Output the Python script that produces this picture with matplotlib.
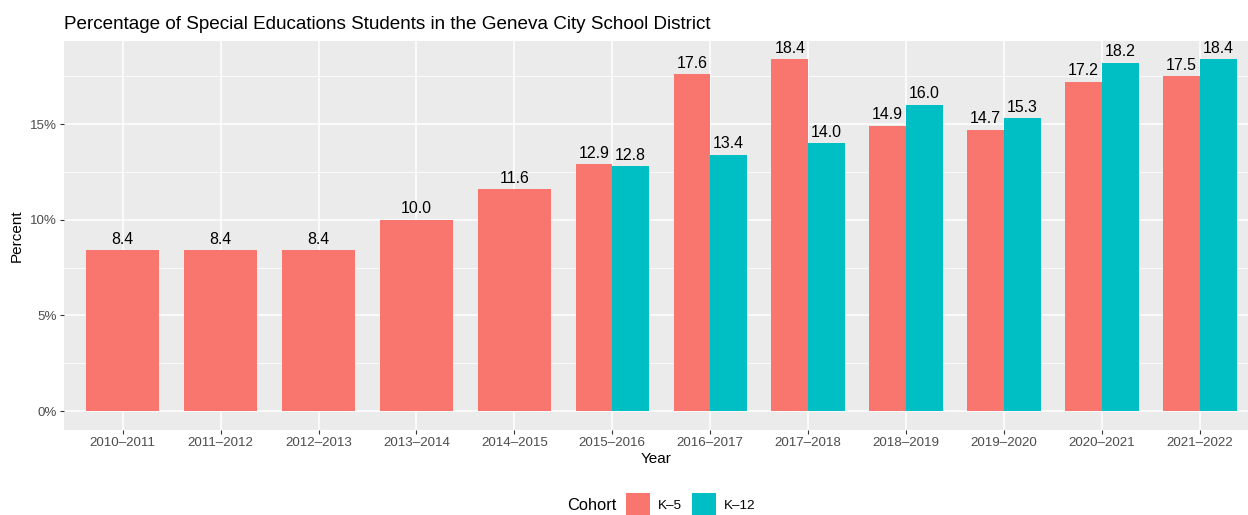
import numpy as np
import matplotlib
matplotlib.use("Agg")
import matplotlib.pyplot as plt
from matplotlib.patches import Patch

plt.rcParams['font.family'] = ['Liberation Sans', 'DejaVu Sans']

# Daten
jahre = ["2010–2011", "2011–2012", "2012–2013", "2013–2014", "2014–2015", "2015–2016",
         "2016–2017", "2017–2018", "2018–2019", "2019–2020", "2020–2021", "2021–2022"]
k5 = [8.4, 8.4, 8.4, 10.0, 11.6, 12.9, 17.6, 18.4, 14.9, 14.7, 17.2, 17.5]
k12 = [np.nan, np.nan, np.nan, np.nan, np.nan, 12.8, 13.4, 14.0, 16.0, 15.3, 18.2, 18.4]
gruppen = ["K–5", "K–12"]
farben = ["#F8766D", "#00BFC4"]

fig = plt.figure(figsize=(12.48, 5.15), dpi=100)
ax = fig.add_axes([64/1248, 85/515, 1184/1248, 389/515])
ax.set_facecolor("#EBEBEB")

breite = 0.75
x = np.arange(len(jahre))
for i in range(len(jahre)):
    if np.isnan(k12[i]):
        werte = [(k5[i], farben[0], i, breite)]
    else:
        werte = [(k5[i], farben[0], i - breite/4, breite/2),
                 (k12[i], farben[1], i + breite/4, breite/2)]
    for w, f, pos, b in werte:
        ax.bar(pos, w, width=b, color=f, zorder=3)
        ax.annotate("%.1f" % w, (pos, w), xytext=(0, 2.5), textcoords="offset points",
                    ha="center", va="bottom", fontsize=11.4, color="black", zorder=4)

ax.set_xlim(-0.6, (1248 - 123) / 97.85 - 0.005)
ax.set_ylim(-0.99, 19.34)
ax.set_xticks(x)
ax.set_xticklabels(jahre)
ax.set_yticks([0, 5, 10, 15])
ax.set_yticklabels(["0%", "5%", "10%", "15%"])
ax.set_yticks([2.5, 7.5, 12.5, 17.5], minor=True)

ax.grid(which="major", color="white", linewidth=1.1, zorder=0)
ax.grid(which="minor", axis="y", color="white", linewidth=0.55, zorder=0)
ax.set_axisbelow(True)
for s in ax.spines.values():
    s.set_visible(False)
ax.tick_params(axis="both", which="major", length=2.75, width=0.8, color="#333333",
               labelsize=9.6, labelcolor="#4D4D4D", pad=2.2)
ax.tick_params(axis="y", which="minor", length=0)

ax.set_xlabel("Year", fontsize=11, labelpad=2.5)
ax.set_ylabel("Percent", fontsize=11)
ax.yaxis.set_label_coords((24 - 64) / 1184, 0.5)
ax.set_title("Percentage of Special Educations Students in the Geneva City School District",
             loc="left", fontsize=13.6, pad=8.5)

# Legende unten
fig.text(567/1248, 10/515, "Cohort", fontsize=11.8, ha="left", va="center")
griffe = [Patch(facecolor=farben[0]), Patch(facecolor=farben[1])]
fig.legend(griffe, gruppen, loc="center left", bbox_to_anchor=(626/1248, 10/515),
           ncol=2, frameon=False, fontsize=9.7, handlelength=1.78, handleheight=2.36,
           handletextpad=0.6, columnspacing=0.75, borderpad=0, borderaxespad=0)

fig.savefig("out.png", dpi=100)
